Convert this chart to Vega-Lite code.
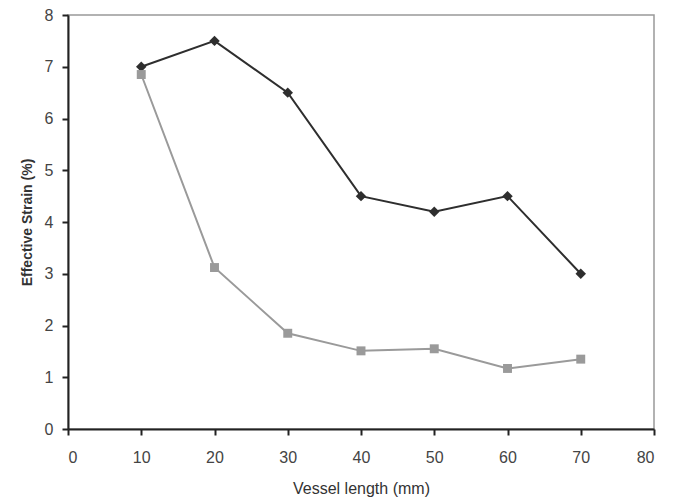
{
  "$schema": "https://vega.github.io/schema/vega-lite/v6.json",
  "autosize": "none",
  "padding": {"left": 68, "top": 15, "right": 26, "bottom": 73},
  "width": 586,
  "height": 414,
  "background": "white",
  "config": {
    "view": {"stroke": "#999999", "strokeWidth": 1.5},
    "font": "Liberation Sans"
  },
  "data": {
    "values": [
      {"length": 10, "strain": 7.0, "series": "A"},
      {"length": 20, "strain": 7.5, "series": "A"},
      {"length": 30, "strain": 6.5, "series": "A"},
      {"length": 40, "strain": 4.5, "series": "A"},
      {"length": 50, "strain": 4.2, "series": "A"},
      {"length": 60, "strain": 4.5, "series": "A"},
      {"length": 70, "strain": 3.0, "series": "A"},
      {"length": 10, "strain": 6.85, "series": "B"},
      {"length": 20, "strain": 3.12, "series": "B"},
      {"length": 30, "strain": 1.85, "series": "B"},
      {"length": 40, "strain": 1.51, "series": "B"},
      {"length": 50, "strain": 1.55, "series": "B"},
      {"length": 60, "strain": 1.17, "series": "B"},
      {"length": 70, "strain": 1.35, "series": "B"}
    ]
  },
  "encoding": {
    "x": {
      "field": "length", "type": "quantitative",
      "scale": {"domain": [0, 80], "nice": false, "zero": false},
      "axis": {
        "title": "Vessel length (mm)", "values": [0,10,20,30,40,50,60,70,80],
        "grid": false, "domainColor": "#222222", "domainWidth": 2,
        "tickColor": "#222222", "tickWidth": 2, "tickSize": 6,
        "labelFontSize": 16, "labelColor": "#444444", "labelPadding": 14,
        "titleFontSize": 16, "titleFontWeight": "normal", "titleColor": "#333333", "titlePadding": 15
      }
    },
    "y": {
      "field": "strain", "type": "quantitative",
      "scale": {"domain": [0, 8], "nice": false},
      "axis": {
        "title": "Effective Strain (%)", "values": [0,1,2,3,4,5,6,7,8],
        "grid": false, "domainColor": "#222222", "domainWidth": 2,
        "tickColor": "#222222", "tickWidth": 2, "tickSize": 6,
        "labelFontSize": 16, "labelColor": "#444444", "labelPadding": 9,
        "titleFontSize": 14, "titleFontWeight": "bold", "titleColor": "#333333", "titlePadding": 10
      }
    },
    "color": {
      "field": "series", "type": "nominal",
      "scale": {"domain": ["A", "B"], "range": ["#2e2e2e", "#9a9a9a"]},
      "legend": null
    }
  },
  "layer": [
    {
      "mark": {"type": "line", "strokeWidth": 2},
      "encoding": {"detail": {"field": "series"}}
    },
    {
      "mark": {"type": "point", "filled": true, "opacity": 1},
      "encoding": {
        "shape": {
          "field": "series", "type": "nominal",
          "scale": {"domain": ["A", "B"], "range": ["diamond", "square"]},
          "legend": null
        },
        "size": {
          "field": "series", "type": "nominal",
          "scale": {"domain": ["A", "B"], "range": [110, 80]},
          "legend": null
        }
      }
    }
  ]
}
